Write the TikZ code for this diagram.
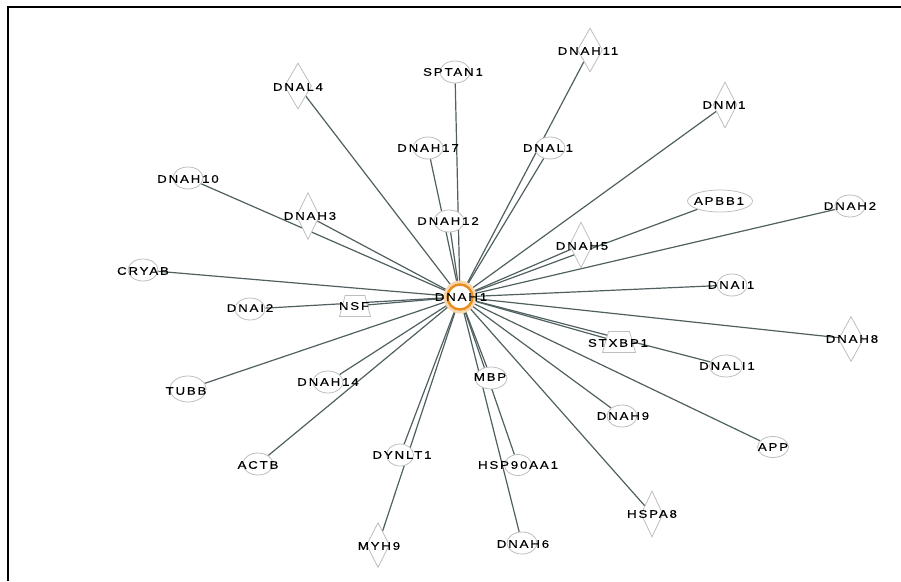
\documentclass[tikz,border=0pt]{standalone}
\usepackage{fontspec}
\newfontfamily\lblfont{Liberation Sans}[LetterSpace=17,FakeStretch=1.2,FakeBold=0.4]
\usetikzlibrary{shapes.geometric}
\pgfdeclarelayer{bg}
\pgfsetlayers{bg,main}
\definecolor{edgecol}{RGB}{80,95,95}
\definecolor{shapecol}{RGB}{190,190,190}
\definecolor{ringcol}{RGB}{232,140,30}
\begin{document}
\begin{tikzpicture}[x=1pt,y=-1pt,
  ell/.style={ellipse, draw=shapecol, fill=white, line width=0.8pt, minimum width=30pt, minimum height=22pt, inner sep=0pt},
  dia/.style={diamond, draw=shapecol, fill=white, line width=0.8pt, minimum width=25pt, minimum height=45pt, inner sep=0pt},
  trap/.style={trapezium, trapezium stretches=true, draw=shapecol, fill=white, line width=0.8pt, minimum width=31pt, minimum height=21pt, trapezium left angle=74, trapezium right angle=74, inner sep=1pt},
  lbl/.style={font=\lblfont\fontsize{11}{13}\selectfont, text=black, inner sep=0pt},
  edge/.style={draw=edgecol, line width=1.2pt}]
\useasboundingbox (0,0) rectangle (901,581);
\draw[black, line width=1.2pt] (8,581) -- (8,7) -- (901,7);

% hub
\node[circle, draw=ringcol, fill=white, line width=2.4pt, minimum size=25pt, inner sep=0pt] (c) at (460,297) {};

% shapes
\node[ell] (SPTAN1) at (455,72) {};
\node[dia, minimum width=27pt, minimum height=46pt] (DNAL4) at (298,86) {};
\node[dia, minimum height=44pt] (DNAH11) at (590,50) {};
\node[dia, minimum width=24pt, minimum height=46pt] (DNM1) at (725,105) {};
\node[ell] (DNAL1) at (550,148) {};
\node[ell] (DNAH17) at (428,148) {};
\node[ell] (DNAH10) at (188,178) {};
\node[dia, minimum width=23pt, minimum height=47pt] (DNAH3) at (308,216) {};
\node[ell] (DNAH12) at (449,221) {};
\node[ell, minimum width=65pt] (APBB1) at (720,201) {};
\node[ell] (DNAH2) at (850,206) {};
\node[dia, minimum width=23pt, minimum height=46pt] (DNAH5) at (581,245) {};
\node[ell] (CRYAB) at (143,270) {};
\node[ell] (DNAI2) at (250,309) {};
\node[trap] (NSF) at (355,306) {};
\node[ell] (DNAI1) at (732,285) {};
\node[dia] (DNAH8) at (851,339) {};
\node[trap, minimum width=33pt] (STXBP1) at (619,342) {};
\node[ell, minimum width=33pt] (DNALI1) at (726,366) {};
\node[ell, minimum width=36pt, minimum height=26pt] (TUBB) at (188,389) {};
\node[ell] (DNAH14) at (328,382) {};
\node[ell, minimum width=32pt] (MBP) at (491,378) {};
\node[ell] (DNAH9) at (622,416) {};
\node[ell, minimum width=31pt, minimum height=21pt] (APP) at (773,447) {};
\node[ell] (ACTB) at (258,464) {};
\node[ell, minimum width=27pt] (DYNLT1) at (400,455) {};
\node[ell, minimum width=27pt, minimum height=21pt] (HSP90AA1) at (518,465) {};
\node[dia, minimum width=22pt, minimum height=46pt] (HSPA8) at (652,514) {};
\node[dia, minimum width=23pt, minimum height=45pt] (MYH9) at (378,545) {};
\node[ell] (DNAH6) at (522,543) {};

% edges
\begin{pgfonlayer}{bg}
\foreach \n in {SPTAN1,DNAL4,DNAH11,DNM1,DNAL1,DNAH17,DNAH10,DNAH3,DNAH12,APBB1,DNAH2,DNAH5,CRYAB,DNAI2,NSF,DNAI1,DNAH8,STXBP1,DNALI1,TUBB,DNAH14,MBP,DNAH9,APP,ACTB,DYNLT1,HSP90AA1,HSPA8,MYH9,DNAH6}
  \draw[edge] (c) -- (\n);
\draw[ringcol!35, line width=6pt] (c.center) circle (13.5pt);
\end{pgfonlayer}

% labels
\node[lbl] (lc) at (461,297) {DNAH1};
\node[lbl] (lSPTAN1) at (453,72) {SPTAN1};
\node[lbl] (lDNAL4) at (298,87) {DNAL4};
\node[lbl] (lDNAH11) at (588,51) {DNAH11};
\node[lbl] (lDNM1) at (724,105) {DNM1};
\node[lbl] (lDNAL1) at (548,148) {DNAL1};
\node[lbl] (lDNAH17) at (428,148) {DNAH17};
\node[lbl] (lDNAH10) at (188,179) {DNAH10};
\node[lbl] (lDNAH3) at (310,216) {DNAH3};
\node[lbl] (lDNAH12) at (448,221) {DNAH12};
\node[lbl] (lAPBB1) at (719,201) {APBB1};
\node[lbl] (lDNAH2) at (850,206) {DNAH2};
\node[lbl] (lDNAH5) at (582,246) {DNAH5};
\node[lbl] (lCRYAB) at (143,271) {CRYAB};
\node[lbl] (lDNAI2) at (250,308) {DNAI2};
\node[lbl] (lNSF) at (354,306) {NSF};
\node[lbl] (lDNAI1) at (731,285) {DNAI1};
\node[lbl] (lDNAH8) at (852,339) {DNAH8};
\node[lbl] (lSTXBP1) at (618,343) {STXBP1};
\node[lbl] (lDNALI1) at (727,366) {DNALI1};
\node[lbl] (lTUBB) at (186,391) {TUBB};
\node[lbl] (lDNAH14) at (328,382) {DNAH14};
\node[lbl] (lMBP) at (490,377) {MBP};
\node[lbl] (lDNAH9) at (623,416) {DNAH9};
\node[lbl] (lAPP) at (773,447) {APP};
\node[lbl] (lACTB) at (258,465) {ACTB};
\node[lbl] (lDYNLT1) at (402,455) {DYNLT1};
\node[lbl] (lHSP90AA1) at (518,465) {HSP90AA1};
\node[lbl] (lHSPA8) at (652,514) {HSPA8};
\node[lbl] (lMYH9) at (379,546) {MYH9};
\node[lbl] (lDNAH6) at (523,544) {DNAH6};
\end{tikzpicture}
\end{document}
